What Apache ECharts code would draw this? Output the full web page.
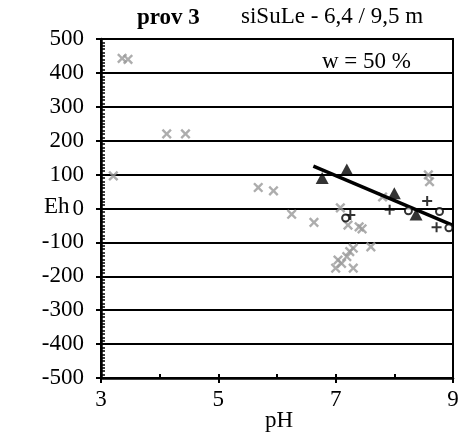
<!DOCTYPE html>
<html>
<head>
<meta charset="utf-8">
<script src="https://cdn.jsdelivr.net/npm/echarts@6/dist/echarts.min.js"></script>
<style>
  html, body { margin: 0; padding: 0; background: #fff; }
  #chart { width: 475px; height: 436px; }
</style>
</head>
<body>
<div id="chart"></div>
<script>
// pH / Eh values
const grayPoints = [
  [3.36, 443], [3.46, 440], [3.21, 96], [4.12, 220], [4.44, 220],
  [5.68, 62], [5.94, 52], [6.25, -17], [6.63, -41], [7.08, 2],
  [7.21, -49], [7.40, -54], [7.45, -60], [7.60, -113], [7.30, -117],
  [7.24, -127], [7.19, -142], [7.04, -152], [7.10, -162], [7.00, -176],
  [7.30, -176], [7.80, 34], [8.58, 99], [8.60, 79]
];
const triangles = [[6.77, 90], [7.19, 115], [8.00, 45], [8.37, -18]];
const plusPoints = [[7.25, -19], [7.92, -4], [8.56, 22], [8.72, -55]];
const circles = [[7.17, -28], [8.24, -7], [8.77, -9], [8.93, -57]];
const trendLine = [[6.62, 125], [9.0, -50]];

const xTicks = [3, 5, 7, 9];
const yTicks = [-500, -400, -300, -200, -100, 0, 100, 200, 300, 400, 500];

const serif = 'Liberation Serif';
const plusPath = 'path://M4,0h2v4h4v2h-4v4h-2v-4h-4v-2h4z';

const chart = echarts.init(document.getElementById('chart'));

chart.setOption({
  animation: false,
  backgroundColor: '#fff',
  textStyle: { fontFamily: serif },
  grid: {
    left: 101, right: 22, top: 39, bottom: 58,
    show: true, borderColor: '#000', borderWidth: 2
  },
  xAxis: [{
    type: 'value', position: 'bottom',
    min: xTicks[0], max: xTicks[xTicks.length - 1], interval: 2,
    axisLine: { onZero: false, lineStyle: { color: '#000', width: 2.5 } },
    axisTick: { length: 5, lineStyle: { color: '#000', width: 2 } },
    splitLine: { show: false },
    axisLabel: { color: '#000', fontSize: 23, fontFamily: serif, margin: 10 }
  }, {
    // small inside ticks at every pH unit
    type: 'value', position: 'bottom', min: 3, max: 9, interval: 1,
    axisLine: { show: false, onZero: false },
    axisTick: { show: true, inside: true, length: 4, lineStyle: { color: '#000', width: 2 } },
    splitLine: { show: false },
    axisLabel: { show: false }
  }],
  yAxis: [{
    type: 'value', position: 'left',
    min: yTicks[0], max: yTicks[yTicks.length - 1], interval: 100,
    axisLine: { show: true, onZero: false, lineStyle: { color: '#000', width: 2.5 } },
    axisTick: { show: true, inside: true, length: 4, lineStyle: { color: '#000', width: 2 } },
    minorTick: { show: true, splitNumber: 10, length: 4, lineStyle: { color: '#000', width: 1.5 } },
    splitLine: { show: true, lineStyle: { color: '#000', width: 2 } },
    axisLabel: { color: '#000', fontSize: 23, fontFamily: serif, margin: 17 }
  }, {
    // outside major ticks
    type: 'value', position: 'left', min: -500, max: 500, interval: 100,
    axisLine: { show: false, onZero: false },
    axisTick: { show: true, length: 5, lineStyle: { color: '#000', width: 2 } },
    splitLine: { show: false },
    axisLabel: { show: false }
  }],
  graphic: [
    { type: 'text', left: 137, top: 7, style: { text: 'prov 3', font: 'bold 23px "Liberation Serif"', fill: '#000' } },
    { type: 'text', left: 241, top: 5, style: { text: 'siSuLe - 6,4 / 9,5 m', font: '23px "Liberation Serif"', fill: '#000' } },
    { type: 'text', left: 322, top: 50, style: { text: 'w = 50 %', font: '23px "Liberation Serif"', fill: '#000' } },
    { type: 'text', left: 44, top: 195, style: { text: 'Eh', font: '23px "Liberation Serif"', fill: '#000' } },
    { type: 'text', left: 265, top: 409, style: { text: 'pH', font: '23px "Liberation Serif"', fill: '#000' } }
  ],
  series: [{
    type: 'scatter', data: grayPoints,
    symbol: plusPath, symbolSize: 12, symbolRotate: 45,
    itemStyle: { color: '#999' }, z: 3
  }, {
    type: 'line', data: trendLine, symbol: 'none',
    lineStyle: { color: '#000', width: 3.5 }, z: 4
  }, {
    type: 'scatter', data: triangles,
    symbol: 'triangle', symbolSize: [13, 12],
    itemStyle: { color: '#000' }, z: 5
  }, {
    type: 'scatter', data: plusPoints,
    symbol: plusPath, symbolSize: 10,
    itemStyle: { color: '#000' }, z: 5
  }, {
    type: 'scatter', data: circles,
    symbol: 'emptyCircle', symbolSize: 7,
    itemStyle: { color: '#000', borderWidth: 2 }, z: 5
  }]
});
</script>
</body>
</html>
